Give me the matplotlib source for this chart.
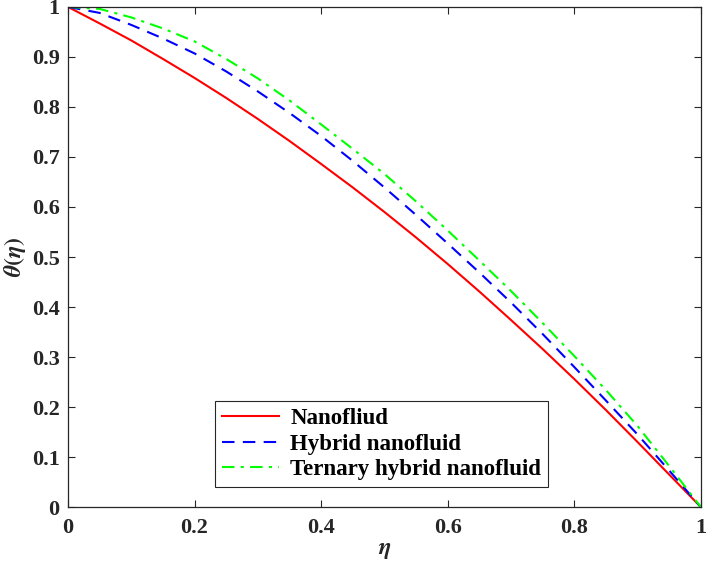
import matplotlib
matplotlib.use('Agg')
import matplotlib.pyplot as plt

# eta positions and temperature profiles
eta = [0.0, 0.05, 0.1, 0.15, 0.2, 0.25, 0.3, 0.35, 0.4, 0.45, 0.5,
       0.55, 0.6, 0.65, 0.7, 0.75, 0.8, 0.85, 0.9, 0.95, 1.0]
theta_nano = [1.0, 0.967, 0.933, 0.896, 0.858, 0.818, 0.776, 0.732, 0.686, 0.639, 0.590,
              0.539, 0.486, 0.431, 0.374, 0.316, 0.256, 0.194, 0.130, 0.065, 0.0]
theta_hybrid = [1.0, 0.988, 0.964, 0.937, 0.907, 0.871, 0.831, 0.788, 0.742, 0.692, 0.639,
                0.584, 0.527, 0.469, 0.409, 0.346, 0.280, 0.213, 0.145, 0.073, 0.0]
theta_ternary = [1.0, 0.996, 0.979, 0.957, 0.931, 0.896, 0.857, 0.813, 0.765, 0.716, 0.666,
                 0.611, 0.553, 0.493, 0.432, 0.368, 0.302, 0.234, 0.162, 0.082, 0.0]
labels = ['Nanofliud', 'Hybrid nanofluid', 'Ternary hybrid nanofluid']
xticks = [0, 0.2, 0.4, 0.6, 0.8, 1]
yticks = [0, 0.1, 0.2, 0.3, 0.4, 0.5, 0.6, 0.7, 0.8, 0.9, 1]

plt.rcParams['font.family'] = ['Liberation Serif', 'DejaVu Serif']
plt.rcParams['font.weight'] = 'bold'
plt.rcParams['mathtext.fontset'] = 'stix'

fig = plt.figure(figsize=(7.08, 5.75), dpi=100)
ax = fig.add_axes([0.096, 0.118, 0.894, 0.870])

ax.plot(eta, theta_nano, color='#ff0000', linestyle='-', linewidth=1.5, label=labels[0])
ax.plot(eta, theta_hybrid, color='#0000ff', linestyle=(0, (6, 4)), linewidth=1.5, label=labels[1])
ax.plot(eta, theta_ternary, color='#00ff00', linestyle=(0, (6, 3, 1.5, 3)), linewidth=1.5, label=labels[2])

ax.set_xlim(0, 1)
ax.set_ylim(0, 1)
ax.set_xticks(xticks)
ax.set_yticks(yticks)
ax.set_xticklabels(['%g' % v for v in xticks])
ax.set_yticklabels(['%g' % v for v in yticks])
ax.tick_params(direction='in', top=True, right=True, length=5, width=0.8,
               labelsize=16, colors='#262626')
ax.tick_params(axis='x', pad=8)
ax.tick_params(axis='y', pad=6)
for s in ax.spines.values():
    s.set_color('#262626')
    s.set_linewidth(0.9)

ax.set_xlabel(r'$\eta$', fontsize=17, color='#262626', labelpad=1)
ax.set_ylabel(r'$\theta(\eta)$', fontsize=17, color='#262626', labelpad=3)

leg = ax.legend(loc='lower left', bbox_to_anchor=(0.232, 0.04), borderaxespad=0,
                fancybox=False, edgecolor='#262626', framealpha=1,
                prop={'family': 'Liberation Serif', 'weight': 'bold', 'size': 16.5},
                handlelength=2.5, handletextpad=0.5, labelspacing=0.2, borderpad=0.3)
leg.get_frame().set_linewidth(0.8)

plt.savefig('out.png', dpi=100)
